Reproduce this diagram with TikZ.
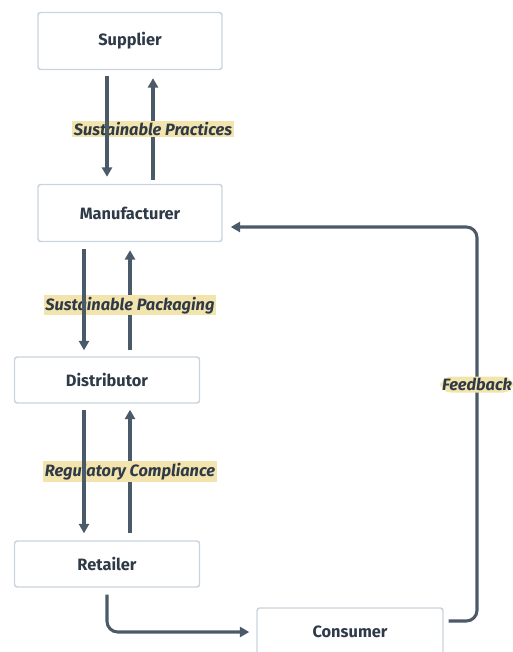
\documentclass[tikz,border=0pt]{standalone}
\usepackage{fontspec}
\setmainfont{Fira Sans}
\usepackage{tikz}
\usetikzlibrary{positioning,calc,arrows.meta}
\definecolor{edgecol}{HTML}{4B5A68}
\definecolor{boxline}{HTML}{C9D4DE}
\definecolor{textcol}{HTML}{2E3A47}
\definecolor{labelbg}{HTML}{F3E3AC}
\tikzset{
  stage/.style={draw=boxline, line width=1.1pt, rounded corners=2pt, fill=white,
    text=textcol, font=\bfseries\fontsize{12.3}{14}\selectfont},
  flow/.style={draw=edgecol, line width=2.3pt, -{Triangle[width=7.5pt,length=7pt]}},
  tag/.style={fill=labelbg, text=textcol, inner sep=1.2pt,
    font=\bfseries\itshape\fontsize{12.3}{14}\selectfont}
}

\begin{document}
\begin{tikzpicture}[x=0.75pt, y=-0.75pt]
    \useasboundingbox (0,0) rectangle (512,652);
    % Nodes
    \node [stage, minimum width=138pt, minimum height=42.75pt] (supplier) at (130,41) {Supplier};
    \node [stage, minimum width=138pt, minimum height=42.75pt] (manufacturer) at (130,213) {Manufacturer};
    \node [stage, minimum width=138.75pt, minimum height=34.5pt] (distributor) at (107,380) {Distributor};
    \node [stage, minimum width=138.75pt, minimum height=34.5pt] (retailer) at (107,564) {Retailer};
    \node [stage, minimum width=139.5pt, minimum height=36pt] (consumer) at (350,632) {Consumer};
    \coordinate (fbk) at (477,227);
    % Arrows
    \draw [flow] ($(manufacturer.north)+(23,-4)$) -- ($(supplier.south)+(23,8)$)
        node [tag, pos=0.5] {Sustainable Practices};
    \draw [flow] ($(supplier.south)+(-23,6)$) -- ($(manufacturer.north)+(-23,-7)$);
    \draw [flow] ($(distributor.north)+(23,-6)$) -- ($(manufacturer.south -| distributor.north)+(23,8)$)
        node [tag, pos=0.45] {Sustainable Packaging};
    \draw [flow] ($(manufacturer.south -| distributor.north)+(-23,7)$) -- ($(distributor.north)+(-23,-6)$);
    \draw [flow] ($(retailer.north)+(23,-7)$) -- ($(distributor.south)+(23,6)$)
        node [tag, pos=0.5] {Regulatory Compliance};
    \draw [flow] ($(distributor.south)+(-23,6)$) -- ($(retailer.north)+(-23,-7)$);
    \draw [flow, rounded corners=8pt] ($(retailer.south)+(0,7)$) |- ($(consumer.west)+(-7,0)$);
    \draw [flow, rounded corners=8pt] ($(consumer.east)+(5,-11)$) -| (fbk)
        node [tag, pos=0.8] {Feedback} -- ($(manufacturer.east)+(8,14)$);
  \end{tikzpicture}
\end{document}
